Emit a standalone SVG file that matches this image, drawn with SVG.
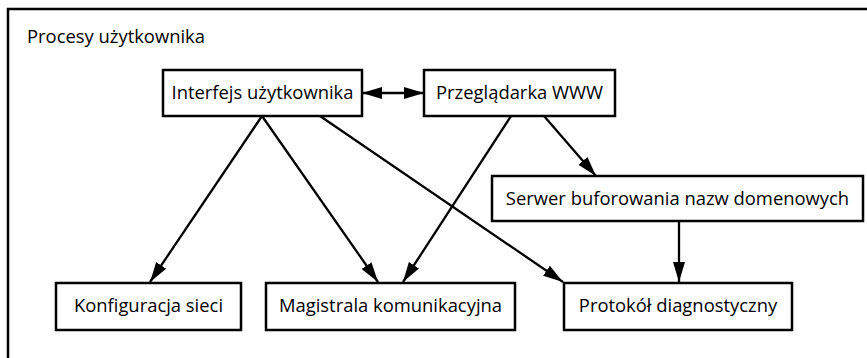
<svg xmlns="http://www.w3.org/2000/svg" width="867" height="358" viewBox="0 0 867 358">
<style>
.box{fill:#fff;stroke:#000;stroke-width:2.5}
.t{font-family:"Open Sans","Liberation Sans",sans-serif;font-size:18.4px;fill:#000;text-anchor:middle}
.c{stroke:#000;stroke-width:2.3;fill:none}
</style>
<defs>
<marker id="ah" markerUnits="userSpaceOnUse" markerWidth="22" markerHeight="14" refX="20" refY="6" orient="auto-start-reverse" viewBox="0 0 22 12">
<path d="M0,0 L20,6 L0,12 Z" fill="#000"/>
</marker>
</defs>
<rect x="8" y="9" width="920" height="420" fill="#fff" stroke="#000" stroke-width="2.5"/>
<text x="27" y="43" style="font-family:'Open Sans','Liberation Sans',sans-serif;font-size:18.4px">Procesy użytkownika</text>
<g id="connectors">
<line class="c" x1="362" y1="93" x2="424" y2="93" marker-start="url(#ah)" marker-end="url(#ah)"/>
<line class="c" x1="262" y1="116" x2="150" y2="282" marker-end="url(#ah)"/>
<line class="c" x1="262" y1="116" x2="378" y2="282" marker-end="url(#ah)"/>
<line class="c" x1="320" y1="116" x2="563" y2="282" marker-end="url(#ah)"/>
<line class="c" x1="511" y1="116" x2="403" y2="282" marker-end="url(#ah)"/>
<line class="c" x1="544" y1="116" x2="596" y2="176" marker-end="url(#ah)"/>
<line class="c" x1="679" y1="221" x2="679" y2="282" marker-end="url(#ah)"/>
</g>
<g id="interfejs">
<rect class="box" x="163" y="70" width="199" height="46"/>
<text class="t" x="262.5" y="99">Interfejs użytkownika</text>
</g>
<g id="przegladarka">
<rect class="box" x="424" y="70" width="191" height="46"/>
<text class="t" x="519.5" y="99">Przeglądarka WWW</text>
</g>
<g id="serwer">
<rect class="box" x="492" y="176" width="371" height="45"/>
<text class="t" x="677.5" y="205">Serwer buforowania nazw domenowych</text>
</g>
<g id="konfiguracja">
<rect class="box" x="56" y="283" width="185" height="47"/>
<text class="t" x="148.5" y="312">Konfiguracja sieci</text>
</g>
<g id="magistrala">
<rect class="box" x="266" y="283" width="249" height="47"/>
<text class="t" x="390.5" y="312">Magistrala komunikacyjna</text>
</g>
<g id="protokol">
<rect class="box" x="564" y="283" width="228" height="47"/>
<text class="t" x="678" y="312">Protokół diagnostyczny</text>
</g>
</svg>
